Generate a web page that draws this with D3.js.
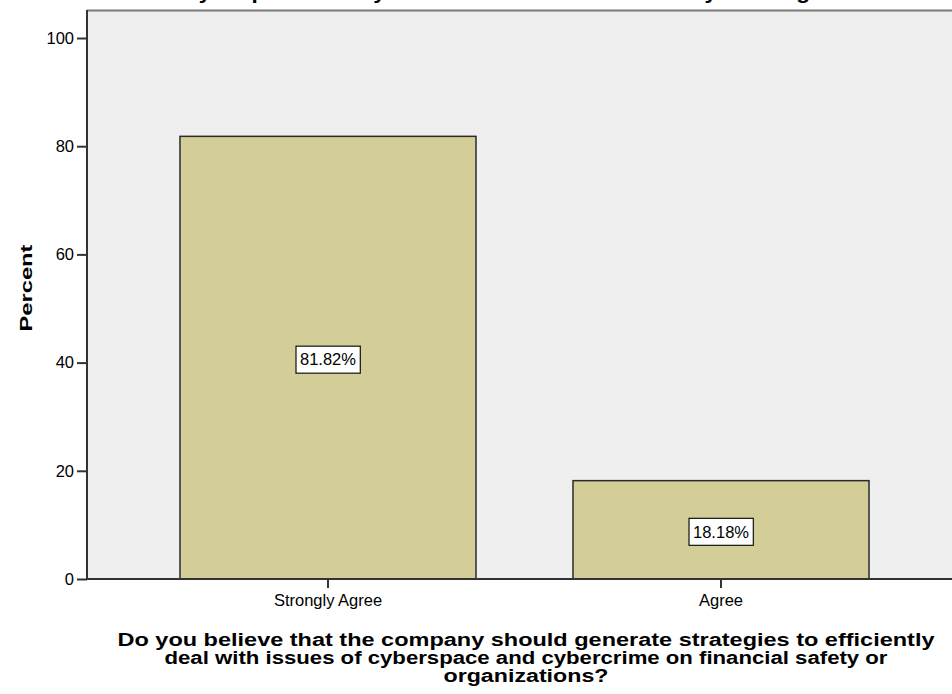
<!DOCTYPE html>
<html>
<head>
<meta charset="utf-8">
<script src="https://cdn.jsdelivr.net/npm/d3@7"></script>
<style>
  body { margin: 0; background: #fff; }
  svg { display: block; }
  text { font-family: "Liberation Sans", Arial, sans-serif; fill: #000; }
</style>
</head>
<body>
<svg id="chart" width="952" height="694"></svg>
<script>
/* Chart data */
/* ********** */
var categories = ['Strongly Agree', 'Agree'];
var percents = [81.82, 18.18];
var yTicks = [0, 20, 40, 60, 80, 100];
var titleText = 'Survey respondents by the role of online banks in city banking';
var xTitleLines = [
    'Do you believe that the company should generate strategies to efficiently',
    'deal with issues of cyberspace and cybercrime on financial safety or',
    'organizations?'
];

var svg = d3.select('#chart');

var plot = { left: 87, top: 10, right: 962, bottom: 579 };

var y = d3.scaleLinear()
    .domain([0, 100])
    .range([plot.bottom, 38]);

var x = d3.scaleBand()
    .domain(categories)
    .range([plot.left, plot.right])
    .paddingInner(0.2468)
    .paddingOuter(0.2366);

// Plot background
svg.append('rect')
    .attr('x', plot.left)
    .attr('y', plot.top)
    .attr('width', plot.right - plot.left)
    .attr('height', plot.bottom - plot.top)
    .attr('fill', '#efefef');

svg.append('line')
    .attr('x1', plot.left).attr('x2', plot.right)
    .attr('y1', plot.top + 0.5).attr('y2', plot.top + 0.5)
    .attr('stroke', '#7a7a7a')
    .attr('stroke-width', 2);

// Title (sits almost entirely above the image, only descenders show)
svg.append('text')
    .attr('x', 136)
    .attr('y', -1.5)
    .style('font-size', '20px')
    .style('font-weight', 'bold')
    .attr('textLength', 674)
    .attr('lengthAdjust', 'spacingAndGlyphs')
    .text(titleText);

// Bars
var rows = categories.map(function (c, i) { return { cat: c, value: percents[i] }; });

svg.append('g')
    .selectAll('rect')
    .data(rows)
    .enter()
    .append('rect')
    .attr('x', function (d) { return x(d.cat); })
    .attr('y', function (d) { return y(d.value); })
    .attr('width', x.bandwidth())
    .attr('height', function (d) { return y(0) - y(d.value); })
    .attr('fill', '#d3ce97')
    .attr('stroke', '#2a2a2a')
    .attr('stroke-width', 1.5);

// Y axis
var yAxis = svg.append('g')
    .attr('transform', 'translate(' + plot.left + ',0)')
    .call(d3.axisLeft(y).tickValues(yTicks).tickSize(10).tickPadding(3).tickFormat(d3.format('d')));
yAxis.select('.domain').remove();
yAxis.selectAll('line').attr('stroke', '#333').attr('stroke-width', 2);
yAxis.selectAll('text')
    .style('font-family', '"Liberation Sans", Arial, sans-serif')
    .style('font-size', '16.5px')
    .attr('fill', '#111');

svg.append('line')
    .attr('x1', plot.left).attr('x2', plot.left)
    .attr('y1', plot.top).attr('y2', plot.bottom)
    .attr('stroke', '#333')
    .attr('stroke-width', 2);

// X axis
var xAxis = svg.append('g')
    .attr('transform', 'translate(0,' + plot.bottom + ')')
    .call(d3.axisBottom(x).tickSize(9).tickPadding(6));
xAxis.select('.domain').remove();
xAxis.selectAll('line').attr('stroke', '#333').attr('stroke-width', 2);
xAxis.selectAll('text')
    .style('font-family', '"Liberation Sans", Arial, sans-serif')
    .style('font-size', '16.5px')
    .attr('fill', '#111');

svg.append('line')
    .attr('x1', plot.left - 1).attr('x2', plot.right)
    .attr('y1', plot.bottom).attr('y2', plot.bottom)
    .attr('stroke', '#333')
    .attr('stroke-width', 2);

// Value labels
var labels = svg.append('g')
    .selectAll('g')
    .data(rows)
    .enter()
    .append('g')
    .attr('transform', function (d) {
        return 'translate(' + (x(d.cat) + x.bandwidth() / 2) + ',' + ((y(0) + y(d.value)) / 2 + 2) + ')';
    });

labels.append('rect').attr('fill', '#fff').attr('stroke', '#111').attr('stroke-width', 1.2);
labels.append('text')
    .attr('text-anchor', 'middle')
    .attr('dy', '0.35em')
    .style('font-size', '16.5px')
    .text(function (d) { return d3.format('.2f')(d.value) + '%'; });
labels.each(function () {
    var g = d3.select(this);
    var bb = g.select('text').node().getBBox();
    g.select('rect')
        .attr('x', bb.x - 4)
        .attr('y', -13.5)
        .attr('width', bb.width + 8)
        .attr('height', 27);
});

// Axis titles
svg.append('text')
    .attr('transform', 'translate(32,288) rotate(-90)')
    .attr('text-anchor', 'middle')
    .style('font-size', '17px')
    .style('font-weight', 'bold')
    .attr('textLength', 87)
    .attr('lengthAdjust', 'spacingAndGlyphs')
    .text('Percent');

var xTitleWidths = [817, 723, 165];
var xTitleBaselines = [646, 664, 682];
svg.append('g')
    .selectAll('text')
    .data(xTitleLines)
    .enter()
    .append('text')
    .attr('x', 526)
    .attr('y', function (d, i) { return xTitleBaselines[i]; })
    .attr('text-anchor', 'middle')
    .style('font-size', '18px')
    .style('font-weight', 'bold')
    .attr('textLength', function (d, i) { return xTitleWidths[i]; })
    .attr('lengthAdjust', 'spacingAndGlyphs')
    .text(function (d) { return d; });
</script>
</body>
</html>
